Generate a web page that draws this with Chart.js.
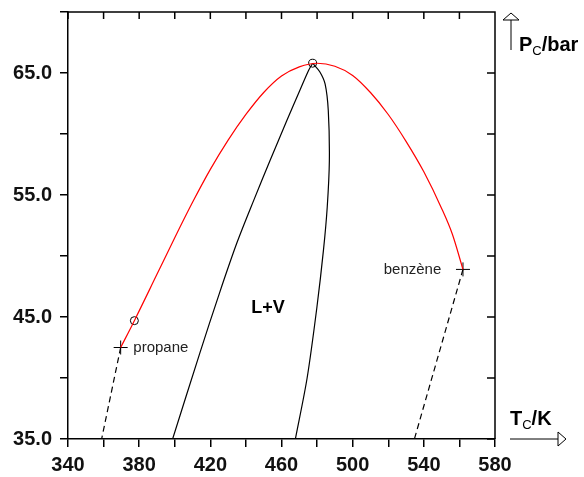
<!DOCTYPE html>
<html>
<head>
<meta charset="utf-8">
<script src="https://cdn.jsdelivr.net/npm/chart.js@4.4.1/dist/chart.umd.min.js"></script>
<style>
  html, body { margin:0; padding:0; background:#fff; }
  #chart { display:block; }
</style>
</head>
<body>
<canvas id="chart" width="584" height="477"></canvas>
<script>
/* ─── data (T in K, P in bar) ─── */

// critical locus of the mixture (red)
const locusT = [369.6, 377.3, 390, 400, 410, 420, 430, 440, 450, 460, 470, 480, 490, 500, 510, 520, 530, 540, 550, 556, 562];
const locusP = [42.5, 44.7, 48.5, 51.5, 54.4, 57.1, 59.5, 61.6, 63.4, 64.75, 65.5, 65.8, 65.55, 64.8, 63.4, 61.6, 59.4, 56.9, 53.9, 51.8, 48.9];

// bubble branch (left black) and dew branch (right black) of one composition
const bubbleT = [398.8, 414.0, 425.0, 435.0, 444.5, 453.5, 463.0, 470.4, 475.2, 477.5];
const bubbleP = [35.0, 42.0, 46.9, 51.1, 54.6, 57.8, 61.1, 63.6, 65.2, 65.8];
const dewT = [477.5, 481.5, 484.5, 486.3, 486.9, 485.7, 483.6, 479.9, 474.4, 467.8];
const dewP = [65.8, 65.1, 64.1, 61.9, 57.8, 54.0, 50.5, 45.8, 40.0, 35.0];

// vapour pressure ends of the pure components (dashed)
const propaneT = [369.6, 358.9];
const propaneP = [42.5, 35.0];
const benzeneT = [562.0, 534.7];
const benzeneP = [48.9, 35.0];

// markers
const critT = [369.6, 562.0];
const critP = [42.5, 48.9];
const circleT = [377.3, 477.5];
const circleP = [44.7, 65.8];

// tick labels
const xTickLabels = [340, 380, 420, 460, 500, 540, 580];
const yTickLabels = [35, 45, 55, 65];

const FONT = "'Liberation Sans', Arial, Helvetica, sans-serif";
Chart.defaults.font.family = FONT;

const pts = (xs, ys) => xs.map((x, i) => ({ x, y: ys[i] }));

function subText(ctx, main, sub, rest, x, y) {
  ctx.textAlign = 'left'; ctx.textBaseline = 'alphabetic';
  ctx.font = `bold 20px ${FONT}`;
  ctx.fillText(main, x, y);
  x += ctx.measureText(main).width;
  ctx.font = `13px ${FONT}`;
  ctx.fillText(sub, x, y + 4);
  x += ctx.measureText(sub).width;
  ctx.font = `bold 20px ${FONT}`;
  ctx.fillText(rest, x, y);
}

function openHead(ctx, p) {
  ctx.beginPath();
  ctx.moveTo(p[0][0], p[0][1]);
  ctx.lineTo(p[1][0], p[1][1]);
  ctx.lineTo(p[2][0], p[2][1]);
  ctx.closePath();
  ctx.fillStyle = '#fff'; ctx.fill(); ctx.stroke();
}

const decor = {
  id: 'decor',
  afterDraw(chart) {
    const { ctx, chartArea: a, scales: { x, y } } = chart;
    ctx.save();
    ctx.strokeStyle = '#000'; ctx.lineWidth = 1.5;

    // frame: top and right sides with inward ticks
    ctx.beginPath();
    ctx.moveTo(a.left, a.top); ctx.lineTo(a.right, a.top); ctx.lineTo(a.right, a.bottom);
    x.ticks.forEach(t => {
      const px = x.getPixelForValue(t.value);
      ctx.moveTo(px, a.top); ctx.lineTo(px, a.top + 7);
    });
    y.ticks.forEach(t => {
      const py = y.getPixelForValue(t.value);
      ctx.moveTo(a.right, py); ctx.lineTo(a.right - 8, py);
    });
    ctx.stroke();

    // axis arrows
    ctx.lineWidth = 1;
    const ax = a.right + 16;
    ctx.beginPath(); ctx.moveTo(ax, a.top + 38); ctx.lineTo(ax, a.top + 8); ctx.stroke();
    openHead(ctx, [[ax, a.top + 1], [ax - 8, a.top + 8], [ax + 8, a.top + 8]]);
    const ay = a.bottom;
    ctx.beginPath(); ctx.moveTo(a.right + 15, ay); ctx.lineTo(a.right + 63, ay); ctx.stroke();
    openHead(ctx, [[a.right + 71, ay], [a.right + 63, ay - 7], [a.right + 63, ay + 7]]);

    // axis titles
    ctx.fillStyle = '#000';
    subText(ctx, 'P', 'C', '/bar', a.right + 24, a.top + 38.5);
    subText(ctx, 'T', 'C', '/K', a.right + 15, a.bottom - 14);

    // in-plot labels
    ctx.fillStyle = '#222';
    ctx.font = `15px ${FONT}`;
    ctx.textBaseline = 'middle';
    ctx.textAlign = 'left';
    ctx.fillText('propane', x.getPixelForValue(376.7), y.getPixelForValue(42.5));
    ctx.textAlign = 'right';
    ctx.fillText('benzène', x.getPixelForValue(549.8), y.getPixelForValue(48.9));
    ctx.fillStyle = '#000';
    ctx.font = `bold 18px ${FONT}`;
    ctx.textAlign = 'center';
    ctx.fillText('L+V', x.getPixelForValue(452.4), y.getPixelForValue(45.7));
    ctx.restore();
  }
};

new Chart(document.getElementById('chart'), {
  type: 'scatter',
  data: {
    datasets: [
      { label: 'critical locus', data: pts(locusT, locusP), showLine: true,
        borderColor: '#ff0000', borderWidth: 1.2, pointRadius: 0, cubicInterpolationMode: 'monotone' },
      { label: 'bubble', data: pts(bubbleT, bubbleP), showLine: true,
        borderColor: '#000', borderWidth: 1.2, pointRadius: 0, tension: 0.3 },
      { label: 'dew', data: pts(dewT, dewP), showLine: true,
        borderColor: '#000', borderWidth: 1.2, pointRadius: 0, tension: 0.3 },
      { label: 'propane', data: pts(propaneT, propaneP), showLine: true,
        borderColor: '#000', borderWidth: 1.2, borderDash: [6, 4], pointRadius: 0 },
      { label: 'benzene', data: pts(benzeneT, benzeneP), showLine: true,
        borderColor: '#000', borderWidth: 1.2, borderDash: [6, 4], pointRadius: 0 },
      { label: 'critical points', data: pts(critT, critP), showLine: false,
        pointStyle: 'cross', pointRadius: 7, borderColor: '#000', borderWidth: 1 },
      { label: 'circles', data: pts(circleT, circleP), showLine: false,
        pointStyle: 'circle', pointRadius: 4, borderColor: '#000', backgroundColor: 'rgba(0,0,0,0)', borderWidth: 1 },
    ],
  },
  options: {
    responsive: false, animation: false,
    layout: { padding: { top: 12, right: 89, left: 0, bottom: 0 } },
    plugins: { legend: { display: false }, tooltip: { enabled: false } },
    scales: {
      x: {
        type: 'linear', position: 'bottom', min: 340, max: 580,
        ticks: { stepSize: 20, autoSkip: false, maxRotation: 0, padding: 6, color: '#111',
          font: { size: 20, weight: 'bold' },
          callback: v => xTickLabels.includes(v) ? String(v) : '' },
        grid: { drawOnChartArea: false, drawTicks: true, tickLength: 8, color: '#000', lineWidth: 1.5 },
        border: { display: true, color: '#000', width: 1.5 },
        afterFit: s => { s.height = 38; s.paddingLeft = 0; s.paddingRight = 0; },
      },
      y: {
        type: 'linear', position: 'left', min: 35, max: 70,
        ticks: { stepSize: 5, autoSkip: false, padding: 8, color: '#111',
          font: { size: 20, weight: 'bold' },
          callback: v => yTickLabels.includes(v) ? v.toFixed(1) : '' },
        grid: { drawOnChartArea: false, drawTicks: true, tickLength: 8, color: '#000', lineWidth: 1.5 },
        border: { display: true, color: '#000', width: 1.5 },
        afterFit: s => { s.width = 68; s.paddingTop = 0; s.paddingBottom = 0; },
      },
    },
  },
  plugins: [decor],
});
</script>
</body>
</html>
